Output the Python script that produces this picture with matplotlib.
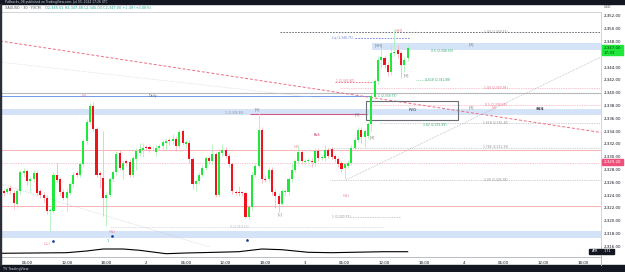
import matplotlib
matplotlib.use("Agg")
import matplotlib.pyplot as plt
from matplotlib.patches import Rectangle
import numpy as np

# ---------------- data ----------------
opens = [2324.64, 2324.5, 2325.2, 2324.4, 2322.6, 2324.6, 2327.5, 2327.8, 2326.2, 2326.5,
         2327.5, 2324.6, 2324.1, 2323.6, 2321.5, 2321.5, 2327.1, 2326.5, 2324.5, 2323.6,
         2324.4, 2325.7, 2327.4, 2327.2, 2328.8, 2332.4, 2335.5, 2338.0, 2334.3, 2327.5,
         2326.7, 2323.6, 2324.1, 2326.5, 2327.6, 2330.6, 2328.0, 2329.3, 2329.2, 2327.2,
         2329.6, 2330.6, 2331.0, 2331.5, 2331.5, 2331.3, 2330.7, 2331.4, 2331.7, 2332.2,
         2332.7, 2332.4, 2332.8, 2331.7, 2334.0, 2332.0, 2332.2, 2329.6, 2325.8, 2326.2,
         2327.2, 2328.3, 2329.8, 2329.3, 2330.4, 2324.1, 2330.6, 2331.0, 2330.2, 2328.8,
         2324.5, 2324.5, 2324.4, 2324.3, 2320.6, 2322.1, 2327.2, 2328.6, 2334.2, 2326.6,
         2326.5, 2328.0, 2324.5, 2323.9, 2322.7, 2324.5, 2324.5, 2326.5, 2328.0, 2329.3,
         2330.7, 2329.2, 2329.3, 2329.4, 2329.1, 2330.9, 2329.8, 2329.8, 2331.1, 2331.2,
         2330.1, 2329.6, 2329.0, 2328.3, 2328.6, 2329.1, 2331.4, 2332.7, 2334.2, 2333.1,
         2333.2, 2335.1, 2339.4, 2341.8, 2345.2, 2345.4, 2344.4, 2343.2, 2346.2, 2346.7,
         2346.2, 2344.4, 2345.51]
highs = [2324.9, 2325.3, 2325.6, 2324.8, 2325.0, 2328.0, 2328.3, 2328.1, 2326.9, 2328.0,
         2327.9, 2324.9, 2324.5, 2324.0, 2322.0, 2327.6, 2329.0, 2326.9, 2324.9, 2324.9,
         2326.0, 2327.6, 2327.8, 2329.2, 2332.8, 2335.9, 2338.4, 2338.5, 2334.6, 2327.8,
         2334.0, 2324.5, 2326.9, 2328.0, 2330.9, 2331.0, 2329.5, 2329.7, 2329.6, 2330.2,
         2331.3, 2332.2, 2332.2, 2331.9, 2331.9, 2331.7, 2331.8, 2332.0, 2332.7, 2332.8,
         2333.0, 2333.5, 2333.2, 2334.2, 2334.3, 2332.7, 2332.6, 2330.0, 2326.6, 2327.6,
         2328.7, 2330.2, 2330.2, 2332.0, 2330.8, 2331.2, 2332.0, 2331.5, 2330.6, 2329.2,
         2324.8, 2325.4, 2324.7, 2324.7, 2322.5, 2327.6, 2329.0, 2336.8, 2334.6, 2327.0,
         2328.4, 2328.4, 2324.9, 2324.3, 2325.0, 2325.0, 2326.9, 2328.9, 2329.7, 2331.8,
         2331.1, 2329.7, 2329.8, 2329.8, 2331.3, 2331.3, 2330.3, 2331.9, 2331.5, 2331.6,
         2330.5, 2330.0, 2329.4, 2329.2, 2329.5, 2331.8, 2333.1, 2334.6, 2334.6, 2334.4,
         2335.5, 2339.8, 2342.2, 2345.8, 2347.2, 2345.8, 2344.8, 2347.4, 2349.8, 2347.4,
         2346.6, 2345.6, 2347.48]
lows = [2323.9, 2324.2, 2324.2, 2321.8, 2322.0, 2324.2, 2327.0, 2325.6, 2324.3, 2326.0,
        2324.0, 2323.6, 2323.0, 2321.0, 2318.2, 2321.2, 2326.0, 2324.0, 2323.2, 2321.5,
        2324.0, 2325.3, 2326.8, 2326.8, 2328.4, 2332.0, 2335.1, 2334.0, 2326.8, 2325.2,
        2320.7, 2319.2, 2323.7, 2326.0, 2327.2, 2327.9, 2326.5, 2328.6, 2326.8, 2326.9,
        2328.0, 2330.2, 2329.9, 2331.0, 2330.8, 2330.9, 2330.2, 2331.0, 2331.2, 2331.0,
        2331.9, 2332.0, 2330.9, 2331.3, 2331.8, 2331.3, 2329.0, 2325.0, 2324.6, 2325.8,
        2326.8, 2327.9, 2328.9, 2328.9, 2323.7, 2323.7, 2330.2, 2329.8, 2328.4, 2324.2,
        2324.0, 2323.9, 2323.9, 2320.5, 2320.3, 2321.7, 2326.8, 2328.2, 2325.9, 2326.0,
        2326.1, 2324.1, 2322.0, 2321.3, 2322.4, 2324.0, 2324.1, 2326.1, 2327.6, 2328.9,
        2328.9, 2328.8, 2329.0, 2328.4, 2328.5, 2329.4, 2329.5, 2329.4, 2329.8, 2329.6,
        2329.2, 2328.4, 2327.6, 2326.5, 2328.2, 2328.7, 2331.0, 2332.3, 2332.2, 2331.6,
        2332.8, 2334.0, 2339.0, 2341.4, 2343.8, 2343.9, 2342.6, 2342.8, 2345.7, 2345.4,
        2342.3, 2343.2, 2345.0]
closes = [2324.28, 2324.9, 2324.6, 2322.8, 2324.6, 2327.6, 2327.8, 2326.2, 2326.5, 2327.5,
          2324.4, 2324.1, 2323.5, 2321.5, 2321.7, 2327.2, 2326.4, 2324.5, 2323.6, 2324.5,
          2325.7, 2327.2, 2327.1, 2328.8, 2332.4, 2335.5, 2338.0, 2334.3, 2327.2, 2327.1,
          2323.6, 2324.1, 2326.5, 2327.6, 2330.4, 2328.3, 2329.1, 2329.0, 2327.2, 2329.8,
          2330.9, 2331.2, 2331.4, 2331.4, 2331.2, 2331.4, 2331.4, 2331.7, 2332.3, 2332.4,
          2332.4, 2332.8, 2331.7, 2333.8, 2332.2, 2332.3, 2329.6, 2325.7, 2326.2, 2327.2,
          2328.3, 2329.8, 2329.3, 2330.5, 2324.1, 2330.7, 2331.0, 2330.2, 2328.8, 2324.6,
          2324.4, 2324.3, 2324.3, 2320.6, 2322.1, 2327.2, 2328.6, 2334.2, 2326.5, 2326.4,
          2328.0, 2324.5, 2323.9, 2322.7, 2324.6, 2324.6, 2326.5, 2328.0, 2329.3, 2330.7,
          2329.3, 2329.3, 2329.4, 2329.2, 2330.9, 2329.8, 2329.9, 2331.1, 2330.2, 2330.0,
          2329.6, 2328.8, 2328.1, 2328.8, 2329.1, 2331.4, 2332.7, 2334.2, 2333.1, 2334.0,
          2335.1, 2339.5, 2341.8, 2345.2, 2345.6, 2344.4, 2343.2, 2346.2, 2346.4, 2346.0,
          2344.4, 2345.2, 2347.0]
first_bar = 5                       # bar index (30-min bars from 00:00 of day 1)
bars = np.arange(first_bar, first_bar + len(closes))

atr_bars = [4, 14, 24, 30, 35, 41, 46, 54, 60, 69, 76, 83, 89, 97, 104, 115, 120, 127]
atr_vals = [1.55, 1.58, 1.61, 1.78, 1.98, 1.98, 1.85, 1.51, 1.58, 1.65, 1.71, 1.98, 1.91,
            1.65, 1.61, 1.68, 1.71, 1.71]

tick_bars = [12, 24, 36, 48, 60, 72, 84, 96, 108, 120, 132, 144, 156, 168, 180]
tick_labels = ["06:00", "12:00", "18:00", "2", "06:00", "12:00", "18:00", "3",
               "06:00", "12:00", "18:00", "4", "06:00", "12:00", "18:00"]
price_ticks = [2352, 2350, 2348, 2344, 2342, 2340, 2338, 2336, 2334, 2332, 2330, 2328,
               2326, 2324, 2322, 2320, 2318, 2316]

last_price = 2347.00
marked_price = 2329.20
atr_last = 1.71

# ---------------- figure ----------------
W, H = 625, 272
fig = plt.figure(figsize=(W / 100, H / 100), dpi=100)
fig.patch.set_facecolor("white")

def fx(x):
    return x / W

def fy(y):
    return 1 - y / H

X0, X1 = 3.84, 185.4
P_TOP, P_BOT = 2352.625, 2315.906

ax = fig.add_axes([0, fy(247), fx(601), (247 - 12) / H])
atr_ax = fig.add_axes([0, fy(257), fx(601), (257 - 247) / H])
ov = fig.add_axes([0, 0, 1, 1], zorder=10)
ov.set_xlim(0, W)
ov.set_ylim(H, 0)
ov.axis("off")
ov.patch.set_alpha(0)

ax.set_xlim(X0, X1)
ax.set_ylim(P_BOT, P_TOP)
ax.set_facecolor("white")
ax.set_xticks([])
ax.yaxis.tick_right()
ax.set_yticks(price_ticks)
ax.set_yticklabels([f"{v:,.2f}" for v in price_ticks], fontsize=2.9, color="#131722")
ax.tick_params(axis="y", length=0, pad=2.2)
ax.spines["left"].set_visible(False)
for s in ["top", "right", "bottom"]:
    ax.spines[s].set_color("#c9ccd3")
    ax.spines[s].set_linewidth(0.6)

GRAY_DOT = dict(color="#a0a4ac", lw=0.5, ls=(0, (1, 1.5)))
PINK_DOT = dict(color="#f48aa6", lw=0.5, ls=(0, (1, 1.5)))

# bands
for lo, hi, a, b in [(2346.7, 2347.8, 116.2, X1), (2336.5, 2337.5, X0, X1), (2317.3, 2318.4, X0, X1)]:
    ax.add_patch(Rectangle((a, lo), b - a, hi - lo, facecolor="#d5e3f8", edgecolor="none", zorder=1))

# horizontal levels
ax.hlines(2349.45, 88.4, X1, color="#555a63", lw=0.6, ls=(0, (2, 1.5)), zorder=2)
ax.hlines(2348.6, 111, 127.7, color="#6b7de0", lw=0.6, ls=(0, (2, 1.5)), zorder=2)
ax.hlines(2341.7, 105, 117, color="#f06c80", lw=0.6, ls=(0, (2, 1.5)), zorder=2)
ax.hlines(2342.0, 129.5, 132.8, color="#5cc98a", lw=0.5, ls=(0, (1, 1.5)), zorder=2)
ax.hlines(2340.7, 106.6, X1, zorder=2, **PINK_DOT)
ax.hlines(2339.92, X0, X1, color="#b6b8bd", lw=0.8, zorder=2)
ax.hlines(2339.5, X0, 115.6, color="#6e9ae8", lw=0.7, zorder=2)
ax.hlines(2338.1, 115.6, X1, zorder=2, **PINK_DOT)
ax.hlines(2336.7, 79.4, 114.7, color="#d05a86", lw=0.8, zorder=2)
ax.hlines(2335.3, 118.6, X1, zorder=2, **GRAY_DOT)
ax.hlines(2331.4, 103.5, X1, zorder=2, **GRAY_DOT)
ax.hlines(2331.06, X0, X1, color="#f7b3b3", lw=0.7, zorder=2)
ax.hlines(2329.1, X0, X1, zorder=2, **PINK_DOT)
ax.hlines(2326.4, 103.5, X1, zorder=2, **GRAY_DOT)
ax.hlines(2322.3, X0, X1, color="#f7b3b3", lw=0.7, zorder=2)
ax.hlines(2320.6, 109.6, 124.7, color="#b5b8bf", lw=0.5, ls=(0, (2, 1.5)), zorder=2)
ax.hlines(2319.1, 37, 119.5, color="#cfd2d8", lw=0.5, ls=(0, (2, 1.5)), zorder=2)

# trend lines
ax.plot([X0, X1], [2348.1, 2333.8], color="#f06c80", lw=0.7, ls=(0, (3, 2)), zorder=2)
ax.plot([108.4, X1], [2326.4, 2345.6], zorder=2, **GRAY_DOT)
ax.plot([X0, 68.2], [2325.75, 2315.75], color="#c4c7cd", lw=0.5, ls=(0, (1, 1.5)), zorder=2)
ax.plot([X0, 103.5], [2344.8, 2339.0], color="#cfd2d8", lw=0.5, ls=(0, (1, 1.5)), zorder=2)

# FVG box
ax.add_patch(Rectangle((114.4, 2335.75), 142.2 - 114.4, 2338.77 - 2335.75,
                       facecolor="none", edgecolor="#6a6d73", lw=0.8, zorder=3))

# candles
o = np.array(opens); h = np.array(highs); l = np.array(lows); c = np.array(closes)
up = c >= o
body_col = np.where(up, "#1fe83a", "#f0131e")
wick_col = np.where(up, "#a9efb6", "#f6b2ba")
ax.vlines(bars, l, h, colors=wick_col, lw=0.55, zorder=4)
bottoms = np.minimum(o, c)
heights = np.maximum(np.abs(c - o), 0.15)
ax.bar(bars, heights, bottom=bottoms, width=0.62, color=body_col, linewidth=0, zorder=5)

# arrow markers
ax.scatter([19.85, 37.7, 78.5], [2316.9, 2317.6, 2317.0], marker=(5, 0, 0), s=5,
           color="#163d91", zorder=6, linewidths=0)

# text annotations (data coords)
def lab(i, p, s, col="#6a6d73", fs=2.5, ha="center", **kw):
    ax.text(i, p, s, color=col, fontsize=fs, ha=ha, va="center", zorder=7, **kw)

lab(29.3, 2339.5, "(H)", "#f06c80")
lab(50.0, 2339.5, "Daily", "#6a6d73", fs=2.4)
lab(18.0, 2316.4, "(LL)", "#f06c80")
lab(37.9, 2318.2, "(HL)", "#f06c80")
lab(36.5, 2316.8, "1", "#26a69a")
lab(81.5, 2337.4, "[H]")
lab(77.5, 2336.9, "1 (2,336.88)", "#8a8d93", fs=2.2, ha="right")
lab(99.6, 2333.4, "BoS", "#c2185b", fs=2.4)
lab(93.5, 2331.6, "(H)", "#f06c80")
lab(88.4, 2321.0, "[L]")
lab(108.6, 2323.9, "(HL)", "#f06c80")
lab(111.7, 2336.7, "[H]")
lab(116.4, 2333.0, "[H]")
lab(118.4, 2347.4, "[HH]")
lab(124.4, 2349.8, "[HH]", "#f06c80")
lab(126.5, 2342.7, "[H]")
lab(146.4, 2347.5, "[H]")
lab(146.4, 2337.7, "[H]")
lab(153.1, 2337.7, "(H)", "#f06c80")
lab(167.0, 2337.5, "$$$", "#333740", fs=3.0, fontweight="bold")
lab(128.6, 2337.3, "FVG", "#333740", fs=3.0, style="italic")
lab(153.6, 2349.45, "1.00 (2,349.43)", "#8a8d93", fs=2.2)
lab(107.3, 2348.5, "Liq (2,348.75)", "#6b7de0", fs=2.2)
lab(137.4, 2346.5, "0.5 (2,346.50)", "#2fa866", fs=2.2)
lab(108.0, 2341.8, "1 (2,341.80)", "#f06c80", fs=2.2)
lab(136.0, 2342.0, "0.618 (2,341.88)", "#2fa866", fs=2.2)
lab(153.6, 2340.7, "1.00 (2,340.94)", "#f06c80", fs=2.2)
lab(120.8, 2339.5, "1 (2,339.77)", "#2fa866", fs=2.2)
lab(153.6, 2338.1, "0.5 (2,338.09)", "#f06c80", fs=2.2)
lab(135.3, 2335.0, "1.62 (2,335.89)", "#2fa866", fs=2.2)
lab(153.6, 2335.3, "1.618 (2,335.40)", "#8a8d93", fs=2.2)
lab(153.6, 2331.6, "1.786 (2,331.39)", "#8a8d93", fs=2.2)
lab(153.6, 2326.4, "2.00 (2,326.38)", "#8a8d93", fs=2.2)
lab(106.9, 2320.6, "1 (2,320.35)", "#8a8d93", fs=2.2)
lab(76.3, 2319.1, "0 (2,319.10)", "#b5b8bf", fs=2.2)

# ATR pane
atr_ax.set_xlim(X0, X1)
atr_ax.set_ylim(1.18, 2.18)
atr_ax.plot(atr_bars, atr_vals, color="black", lw=0.8)
atr_ax.set_yticks([])
atr_ax.set_xticks(tick_bars)
atr_ax.set_xticklabels(tick_labels, fontsize=2.8, color="#131722")
atr_ax.tick_params(axis="x", length=0, pad=3.2)
for s in ["left", "top"]:
    atr_ax.spines[s].set_visible(False)
for s in ["bottom", "right"]:
    atr_ax.spines[s].set_color("#b8bcc6")
    atr_ax.spines[s].set_linewidth(0.7)

# overlay decorations (pixel coords)
ov.add_patch(Rectangle((0, 0), W, 4, color="#131722"))
ov.add_patch(Rectangle((0, 265), W, 7, color="#131722"))
ov.add_patch(Rectangle((0, 4), 1, 261, color="#2a2e39"))
ov.plot([601, 601], [257, 265], color="#b8bcc6", lw=0.7)
ov.text(5, 2.1, "Pullbacks_0B published on TradingView.com, Jul 03, 2024 17:26 UTC",
        color="#d1d4dc", fontsize=2.2, va="center", ha="left")
ov.text(5, 8.3, "XAUUSD · 30 · FXCM", color="#555a63", fontsize=2.5, va="center", ha="left")
ov.text(45, 8.3, "O2,345.51 H2,347.48 L2,345.00 C2,347.00 +1.49 (+0.06%)",
        color="#22ab94", fontsize=2.5, va="center", ha="left")
ov.text(604, 6.8, "USD", color="#555a63", fontsize=2.5, va="center", ha="left")
ov.text(3, 268.6, "TV TradingView", color="#d1d4dc", fontsize=2.4, va="center", ha="left")

def price_y(p):
    return 16 + (2352 - p) * 6.4

yl = price_y(last_price)
ov.add_patch(Rectangle((602, yl - 3.5), 21, 10.5, color="#1fe83a"))
ov.text(604, yl, f"{last_price:,.2f}", color="#0b3d12", fontsize=2.9, va="center", ha="left")
ov.text(604, yl + 5, "17:33", color="#0b3d12", fontsize=2.9, va="center", ha="left")
ym = price_y(marked_price)
ov.add_patch(Rectangle((602, ym - 3), 21, 6, color="#ef4f7a"))
ov.text(604, ym, f"{marked_price:,.2f}", color="white", fontsize=2.9, va="center", ha="left")
ov.add_patch(Rectangle((589, 249), 12, 5, color="#131722"))
ov.text(595, 251.5, "ATR", color="white", fontsize=2.4, va="center", ha="center")
ov.add_patch(Rectangle((601.5, 249), 12, 5, color="#131722"))
ov.text(607.5, 251.5, f"{atr_last:.2f}", color="white", fontsize=2.4, va="center", ha="center")

fig.savefig("out.png", dpi=100, facecolor="white")
